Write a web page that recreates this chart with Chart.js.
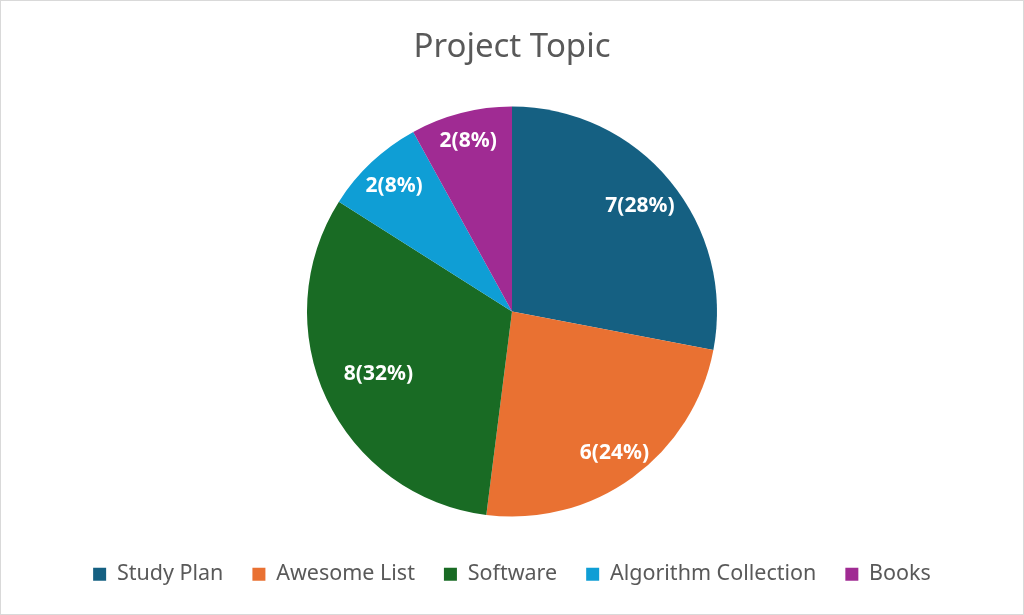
<!DOCTYPE html>
<html>
<head>
<meta charset="utf-8">
<script src="https://cdn.jsdelivr.net/npm/chart.js@4/dist/chart.umd.min.js"></script>
<style>
  html, body { margin: 0; padding: 0; background: #fff; }
  #wrap { position: relative; width: 1024px; height: 615px; box-sizing: border-box; border: 1px solid #d9d9d9; }
  canvas { display: block; }
</style>
</head>
<body>
<div id="wrap"><canvas id="c"></canvas></div>
<script>
const categories = ["Study Plan", "Awesome List", "Software", "Algorithm Collection", "Books"];
const counts = [7, 6, 8, 2, 2];
const colors = ["#156082", "#E97132", "#196B24", "#0F9ED5", "#A02B93"];
const labelRadiusFactor = [0.81, 0.85, 0.72, 0.84, 0.86];

const total = counts.reduce((a, b) => a + b, 0);

const labelPlugin = {
  id: 'sliceLabels',
  afterDatasetsDraw(chart) {
    const ctx = chart.ctx;
    const meta = chart.getDatasetMeta(0);
    ctx.save();
    ctx.fillStyle = '#ffffff';
    ctx.font = 'bold 21px "Noto Sans", "DejaVu Sans", sans-serif';
    ctx.textAlign = 'center';
    ctx.textBaseline = 'middle';
    meta.data.forEach((arc, i) => {
      const p = arc.getProps(['x', 'y', 'startAngle', 'endAngle', 'outerRadius'], true);
      const mid = (p.startAngle + p.endAngle) / 2;
      const r = p.outerRadius * labelRadiusFactor[i];
      const x = p.x + Math.cos(mid) * r;
      const y = p.y + Math.sin(mid) * r;
      const v = counts[i];
      const pct = Math.round(v / total * 100);
      ctx.fillText(v + '(' + pct + '%)', x, y);
    });
    ctx.restore();
  }
};

new Chart(document.getElementById('c'), {
  type: 'pie',
  data: {
    labels: categories,
    datasets: [{
      data: counts,
      backgroundColor: colors,
      borderWidth: 0,
      radius: 205
    }]
  },
  options: {
    responsive: true,
    maintainAspectRatio: false,
    animation: false,
    layout: { padding: { top: 0, bottom: 19, left: 0, right: 0 } },
    plugins: {
      title: {
        display: true,
        text: 'Project Topic',
        color: '#595959',
        font: { family: '"Noto Sans", "DejaVu Sans", sans-serif', size: 33, weight: 'normal' },
        padding: { top: 27, bottom: 21 }
      },
      legend: {
        display: true,
        position: 'bottom',
        labels: {
          color: '#595959',
          font: { family: '"Noto Sans", "DejaVu Sans", sans-serif', size: 21.5 },
          boxWidth: 13,
          boxHeight: 13,
          padding: 29
        }
      },
      tooltip: { enabled: false }
    }
  },
  plugins: [labelPlugin]
});
</script>
</body>
</html>
